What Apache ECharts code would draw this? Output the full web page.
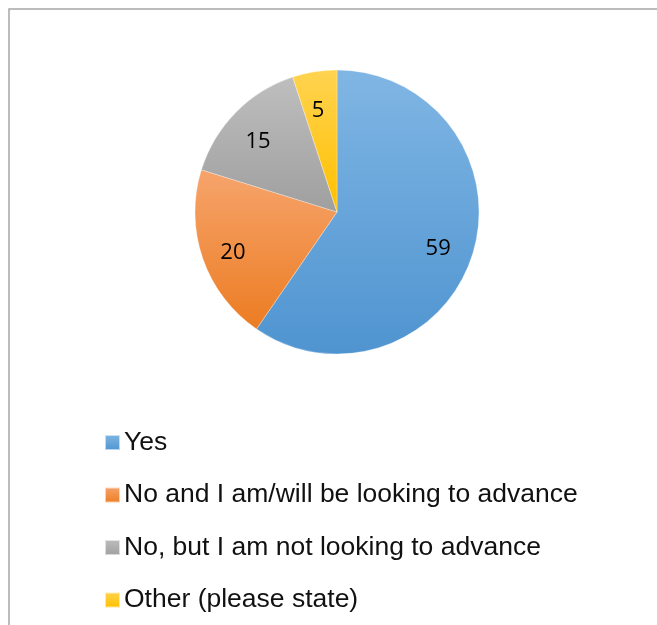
<!DOCTYPE html>
<html>
<head>
<meta charset="utf-8">
<script src="https://cdn.jsdelivr.net/npm/echarts@6/dist/echarts.min.js"></script>
<style>
  html, body { margin: 0; padding: 0; background: #fff; }
  #chart { width: 657px; height: 625px; }
</style>
</head>
<body>
<div id="chart"></div>
<script>
// Survey answers and their counts
const categories = [
  'Yes',
  'No and I am/will be looking to advance',
  'No, but I am not looking to advance',
  'Other (please state)'
];
const values = [59, 20, 15, 5];

// Top/bottom colours of each slice's vertical gradient
const topColors = ['#80B6E4', '#F6A46C', '#BEBEBE', '#FFD350'];
const bottomColors = ['#4F94D0', '#EC7C22', '#9F9F9F', '#FFC000'];

const gradient = (i) => ({
  type: 'linear', x: 0, y: 0, x2: 0, y2: 1,
  colorStops: [
    { offset: 0, color: topColors[i] },
    { offset: 1, color: bottomColors[i] }
  ]
});

const pieData = categories.map((name, i) => ({
  name, value: values[i], itemStyle: { color: gradient(i) }
}));

const chart = echarts.init(document.getElementById('chart'), null, { renderer: 'canvas' });
chart.setOption({
  animation: false,
  graphic: [{
    type: 'rect',
    shape: { x: 9, y: 9, width: 800, height: 800 },
    style: { fill: 'none', stroke: '#A6A6A6', lineWidth: 1.5 },
    silent: true,
    z: -1
  }],
  legend: {
    orient: 'vertical',
    left: 104,
    top: 429,
    padding: 0,
    itemWidth: 15,
    itemHeight: 15,
    itemGap: 25.5,
    icon: 'rect',
    selectedMode: false,
    textStyle: {
      fontFamily: 'Liberation Sans, Arial, sans-serif',
      fontSize: 26.5,
      color: '#111',
      padding: [0, 0, 0, -1]
    },
    data: categories
  },
  series: [
    {
      type: 'pie',
      center: [337, 212],
      radius: [0, 142],
      startAngle: 90,
      clockwise: true,
      label: { show: false },
      labelLine: { show: false },
      itemStyle: { borderColor: 'rgba(255,255,255,0.6)', borderWidth: 0.5 },
      emphasis: { disabled: true },
      data: pieData
    },
    {
      // transparent twin ring that carries the value labels further out
      type: 'pie',
      center: [337, 212],
      radius: [0, 210],
      startAngle: 90,
      clockwise: true,
      silent: true,
      legendHoverLink: false,
      itemStyle: { color: 'rgba(0,0,0,0)' },
      label: {
        show: true,
        position: 'inside',
        formatter: '{c}',
        fontFamily: 'Open Sans, sans-serif',
        fontSize: 22,
        color: '#000',
        offset: [-2, 5]
      },
      labelLine: { show: false },
      emphasis: { disabled: true },
      data: categories.map((name, i) => ({ name: name + ' ', value: values[i] }))
    }
  ]
});
</script>
</body>
</html>
